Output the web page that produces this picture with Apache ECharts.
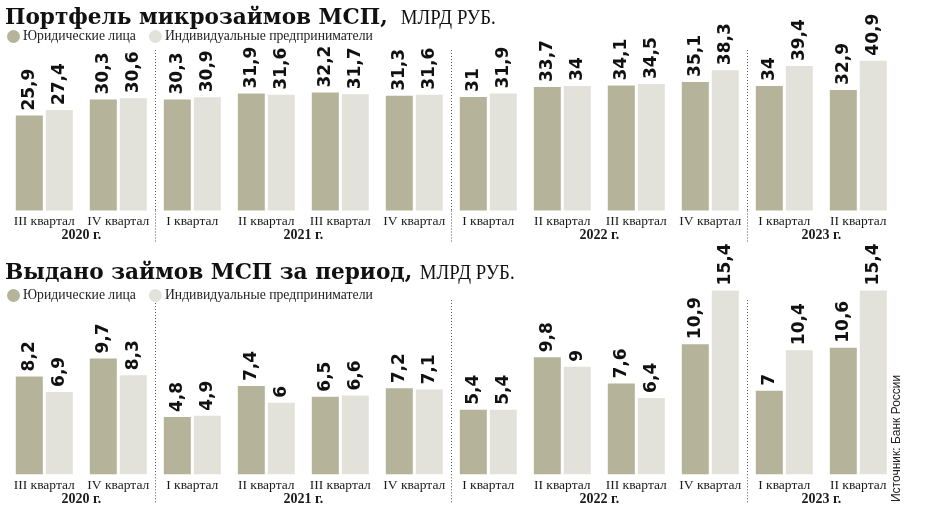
<!DOCTYPE html>
<html><head><meta charset="utf-8">
<script src="https://cdn.jsdelivr.net/npm/echarts@6/dist/echarts.min.js"></script>
<style>html,body{margin:0;padding:0;background:#fff}#c{width:930px;height:516px}</style>
</head><body><div id="c"></div>
<script>
var quarters = ['III квартал','IV квартал','I квартал','II квартал','III квартал','IV квартал','I квартал','II квартал','III квартал','IV квартал','I квартал','II квартал'];
var years = ['2020 г.','2021 г.','2022 г.','2023 г.'];
var yearBoundaryIdx = [2, 8, 16, 22];   // label positions on half-step helper axis
var separatorIdx = [4, 12, 20];
var seriesNames = ['Юридические лица','Индивидуальные предприниматели'];
var portfolioLegal = [25.9, 30.3, 30.3, 31.9, 32.2, 31.3, 31, 33.7, 34.1, 35.1, 34, 32.9];
var portfolioIndiv = [27.4, 30.6, 30.9, 31.6, 31.7, 31.6, 31.9, 34, 34.5, 38.3, 39.4, 40.9];
var issuedLegal = [8.2, 9.7, 4.8, 7.4, 6.5, 7.2, 5.4, 9.8, 7.6, 10.9, 7, 10.6];
var issuedIndiv = [6.9, 8.3, 4.9, 6, 6.6, 7.1, 5.4, 9, 6.4, 15.4, 10.4, 15.4];
var title1 = 'Портфель микрозаймов МСП,';
var title2 = 'Выдано займов МСП за период,';
var unit = 'МЛРД РУБ.';
var source = 'Источник: Банк России';
var colors = ['#b5b39a', '#e2e1da'];

var helper = [];
for (var j = 0; j <= 24; j++) helper.push('');
yearBoundaryIdx.forEach(function (k, i) { helper[k] = years[i]; });

var chart = echarts.init(document.getElementById('c'));
function fmt(p) { return String(p.value).replace('.', ','); }
function quarterAxis(g) {
  return { type: 'category', gridIndex: g, data: quarters, position: 'bottom',
    axisLine: { show: false }, axisTick: { show: false },
    axisLabel: { interval: 0, margin: 4, fontFamily: 'Liberation Serif', fontSize: 13.5, color: '#1a1a1a' } };
}
function helperAxis(g, tickLen) {
  return { type: 'category', gridIndex: g, data: helper, boundaryGap: false, position: 'bottom',
    axisLine: { show: false },
    axisTick: { show: true, length: tickLen, interval: function (i) { return separatorIdx.indexOf(i) >= 0; },
      lineStyle: { color: '#555', type: [1, 2], width: 1 } },
    splitLine: { show: true, interval: function (i) { return separatorIdx.indexOf(i) >= 0; },
      lineStyle: { color: '#555', type: [1, 2], width: 1 } },
    axisLabel: { interval: 0, margin: 18, fontFamily: 'Liberation Serif', fontWeight: 'bold', fontSize: 14, color: '#1a1a1a' } };
}
var labelCfg = { show: true, position: 'top', rotate: 90, align: 'left', verticalAlign: 'middle', distance: 5,
  fontFamily: 'DejaVu Sans', fontWeight: 'bold', fontSize: 17, color: '#111', formatter: fmt };
function bar(name, x, y, data, c) {
  return { type: 'bar', name: name, xAxisIndex: x, yAxisIndex: y, data: data, barWidth: 27, barGap: '11%',
    clip: false, itemStyle: { color: c }, label: labelCfg, silent: true, animation: false };
}
var legendBase = { icon: 'circle', itemWidth: 13, itemHeight: 13, itemGap: 13, left: 7, padding: 0,
  textStyle: { fontFamily: 'Liberation Serif', fontSize: 13.7, color: '#222', padding: [0, 0, 0, -2] }, data: seriesNames };
function titleEl(txt, top, gap) {
  return { type: 'text', left: 5, top: top, scaleX: 0.94, style: { text: '{t|' + txt + '}{u|' + unit + '}',
    rich: { t: { fontFamily: 'DejaVu Serif', fontWeight: 'bold', fontSize: 23, fill: '#111' },
            u: { fontFamily: 'Liberation Serif', fontSize: 20, fill: '#111', padding: [0, 0, 0, gap] } } } };
}

chart.setOption({
  animation: false,
  color: colors,
  grid: [
    { left: 7.3, width: 888, top: 50, height: 160.5 },
    { left: 7.3, width: 888, top: 300, height: 174.3 }
  ],
  legend: [
    Object.assign({}, legendBase, { top: 29.5 }),
    Object.assign({}, legendBase, { top: 288.5 })
  ],
  xAxis: [quarterAxis(0), helperAxis(0, 31), quarterAxis(1), helperAxis(1, 29)],
  yAxis: [
    { type: 'value', gridIndex: 0, min: 0, max: 43.8, show: false },
    { type: 'value', gridIndex: 1, min: 0, max: 14.6, show: false }
  ],
  series: [
    bar(seriesNames[0], 0, 0, portfolioLegal, colors[0]),
    bar(seriesNames[1], 0, 0, portfolioIndiv, colors[1]),
    bar(seriesNames[0], 2, 1, issuedLegal, colors[0]),
    bar(seriesNames[1], 2, 1, issuedIndiv, colors[1])
  ],
  graphic: [
    titleEl(title1, 7, 14),
    titleEl(title2, 262, 8),
    { type: 'text', x: 897, y: 502, rotation: Math.PI / 2,
      style: { text: source, fontFamily: 'Liberation Sans', fontSize: 12, fill: '#222', align: 'left', verticalAlign: 'middle' } }
  ]
});
</script></body></html>
